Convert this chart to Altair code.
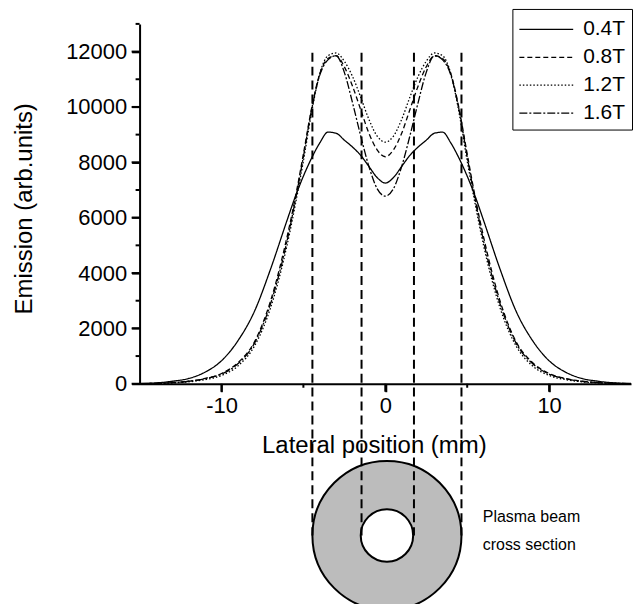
import altair as alt
import pandas as pd

# ---------------- data ----------------
positions = [-15, -14, -13, -12, -11, -10, -9, -8, -7, -6, -5.5, -5, -4.5, -4, -3.5, -3, -2.5, -2, -1.5, -1, -0.5, 0,
             0.5, 1, 1.5, 2, 2.5, 3, 3.5, 4, 4.5, 5, 5.5, 6, 7, 8, 9, 10, 11, 12, 13, 14, 15]

emission_04T = [10, 30, 90, 190, 420, 830, 1550, 2600, 4150, 5900, 6750, 7500, 8150, 8700, 9090, 9050, 8800, 8550, 8250, 7850, 7450, 7250,
                7450, 7850, 8250, 8550, 8800, 9050, 9090, 8700, 8150, 7500, 6750, 5900, 4150, 2600, 1550, 830, 420, 190, 90, 30, 10]
emission_08T = [5, 15, 40, 90, 190, 370, 760, 1500, 3000, 5300, 6700, 8300, 9950, 11200, 11750, 11850, 11450, 10750, 9900, 9050, 8450, 8200,
                8450, 9050, 9900, 10750, 11450, 11850, 11750, 11200, 9950, 8300, 6700, 5300, 3000, 1500, 760, 370, 190, 90, 40, 15, 5]
emission_12T = [3, 10, 30, 70, 150, 300, 640, 1350, 2750, 5000, 6450, 8050, 9800, 11200, 11850, 11950, 11650, 11100, 10350, 9550, 8950, 8730,
                8950, 9550, 10350, 11100, 11650, 11950, 11850, 11200, 9800, 8050, 6450, 5000, 2750, 1350, 640, 300, 150, 70, 30, 10, 3]
emission_16T = [5, 15, 40, 90, 180, 350, 720, 1450, 2900, 5150, 6600, 8200, 9900, 11150, 11700, 11850, 11250, 10150, 8950, 7850, 7050, 6780,
                7050, 7850, 8950, 10150, 11250, 11850, 11700, 11150, 9900, 8200, 6600, 5150, 2900, 1450, 720, 350, 180, 90, 40, 15, 5]

series_names = ["0.4T", "0.8T", "1.2T", "1.6T"]
series_values = [emission_04T, emission_08T, emission_12T, emission_16T]

# beam cross-section (mm): edges of the annulus, marked by the dashed guide lines
beam_edges = [-4.45, -1.45, 1.75, 4.65]
beam_center = 0.1
outer_radius = 4.55
inner_radius = 1.6
guide_top = 11960            # upper end of the guide lines (emission units)
section_level = -5480        # level of the cross-section drawing below the axis (same units)

note_lines = ["Plasma beam", "cross section"]
note_x = 5.95
note_y = [-4830, -5840]

x_domain = [-15, 15]
y_domain = [0, 13000]
y_major = [0, 2000, 4000, 6000, 8000, 10000, 12000]
y_minor = [1000, 3000, 5000, 7000, 9000, 11000, 13000]
x_major = [-10, 0, 10]
x_minor = [-5, 5]

# ---------------- tables ----------------
curves = pd.DataFrame([
    {"x": xv, "y": yv, "B": name}
    for name, vals in zip(series_names, series_values)
    for xv, yv in zip(positions, vals)
])
guides = pd.DataFrame({"x": beam_edges, "y": [guide_top] * 4, "y2": [section_level] * 4})
section = pd.DataFrame({"x": [beam_center], "y": [section_level]})
notes = pd.DataFrame({"x": [note_x] * 2, "y": note_y, "t": note_lines})

W, H = 493, 361
px_per_mm = W / 30.0
FONT = "Liberation Sans"
MAJOR, MINOR = 8, 4

x_scale = alt.Scale(domain=x_domain, nice=False, zero=False)
y_scale = alt.Scale(domain=y_domain, nice=False, zero=False)

x_axis = alt.Axis(
    title="Lateral position (mm)", values=x_major, grid=False, orient="bottom",
    labelExpr="'' + datum.value", tickSize=MAJOR,
    labelPadding=4, titleX=235, titleY=50,
)
y_axis = alt.Axis(
    title="Emission (arb.units)", values=y_major, grid=False, orient="left",
    labelExpr="'' + datum.value", tickSize=MAJOR,
    labelPadding=5, titleX=-103, titleY=185,
)

# every layer carries the same axis definition so the shared axes merge cleanly
def X():
    return alt.X("x:Q", scale=x_scale, axis=x_axis)

def Y():
    return alt.Y("y:Q", scale=y_scale, axis=y_axis)

# legend symbol: a horizontal stroke drawn to the right of the symbol anchor
legend_path = "M-1,0H3"

lines = alt.Chart(curves).mark_line(color="black", strokeWidth=1.3, interpolate="monotone").encode(
    x=X(), y=Y(),
    strokeDash=alt.StrokeDash(
        "B:N",
        scale=alt.Scale(domain=series_names, range=[[1, 0], [5, 3], [1.5, 2], [8, 2, 2, 2]]),
        legend=alt.Legend(
            title=None, orient="none", legendX=374, legendY=-15,
            symbolType=legend_path, symbolSize=729, symbolStrokeWidth=1.3,
            symbolStrokeColor="black", labelFontSize=21, labelFont=FONT, labelColor="black",
            strokeColor="black", fillColor="white", padding=6, rowPadding=3, labelOffset=36,
        ),
    ),
    detail="B:N",
)

outer = alt.Chart(section).mark_point(
    shape="circle", filled=True, fill="#bcbcbc", stroke="black", strokeWidth=2, opacity=1,
    size=(2 * outer_radius * px_per_mm) ** 2,
).encode(x=X(), y=Y())

inner = alt.Chart(section).mark_point(
    shape="circle", filled=True, fill="white", stroke="black", strokeWidth=2, opacity=1,
    size=(2 * inner_radius * px_per_mm) ** 2,
).encode(x=X(), y=Y())

guide_rules = alt.Chart(guides).mark_rule(color="black", strokeWidth=2, strokeDash=[9, 5]).encode(
    x=X(), y=Y(), y2="y2:Q"
)

note_text = alt.Chart(notes).mark_text(align="left", baseline="middle", fontSize=16, font=FONT, color="black").encode(
    x=X(), y=Y(), text="t:N"
)

# outward tick marks drawn as short rules anchored on the axis lines
def y_ticks(vals, length):
    df = pd.DataFrame({"x": [x_domain[0]] * len(vals), "x2": [x_domain[0]] * len(vals), "y": vals})
    return alt.Chart(df).mark_rule(color="black", strokeWidth=2, x2Offset=-length).encode(
        x=X(), x2="x2:Q", y=Y()
    )

def x_ticks(vals, length):
    df = pd.DataFrame({"x": vals, "y": [y_domain[0]] * len(vals), "y2": [y_domain[0]] * len(vals)})
    return alt.Chart(df).mark_rule(color="black", strokeWidth=2, y2Offset=length).encode(
        x=X(), y=Y(), y2="y2:Q"
    )

chart = alt.layer(
    lines, outer, inner, guide_rules, note_text,
    y_ticks(y_major, MAJOR), y_ticks(y_minor, MINOR),
    x_ticks(x_major, MAJOR), x_ticks(x_minor, MINOR),
).properties(
    width=W, height=H,
    autosize=alt.AutoSizeParams(type="none"),
    padding={"left": 132, "top": 15, "right": 4, "bottom": 220},
    background="white",
).configure_view(stroke=None).configure_axis(
    domainColor="black", domainWidth=2, tickColor="black", tickWidth=2,
    labelColor="black", titleColor="black", labelFont=FONT, titleFont=FONT,
    labelFontSize=22, titleFontSize=24, titleFontWeight="normal",
)

chart.save("out.html", embed_options={"renderer": "svg", "actions": False})
